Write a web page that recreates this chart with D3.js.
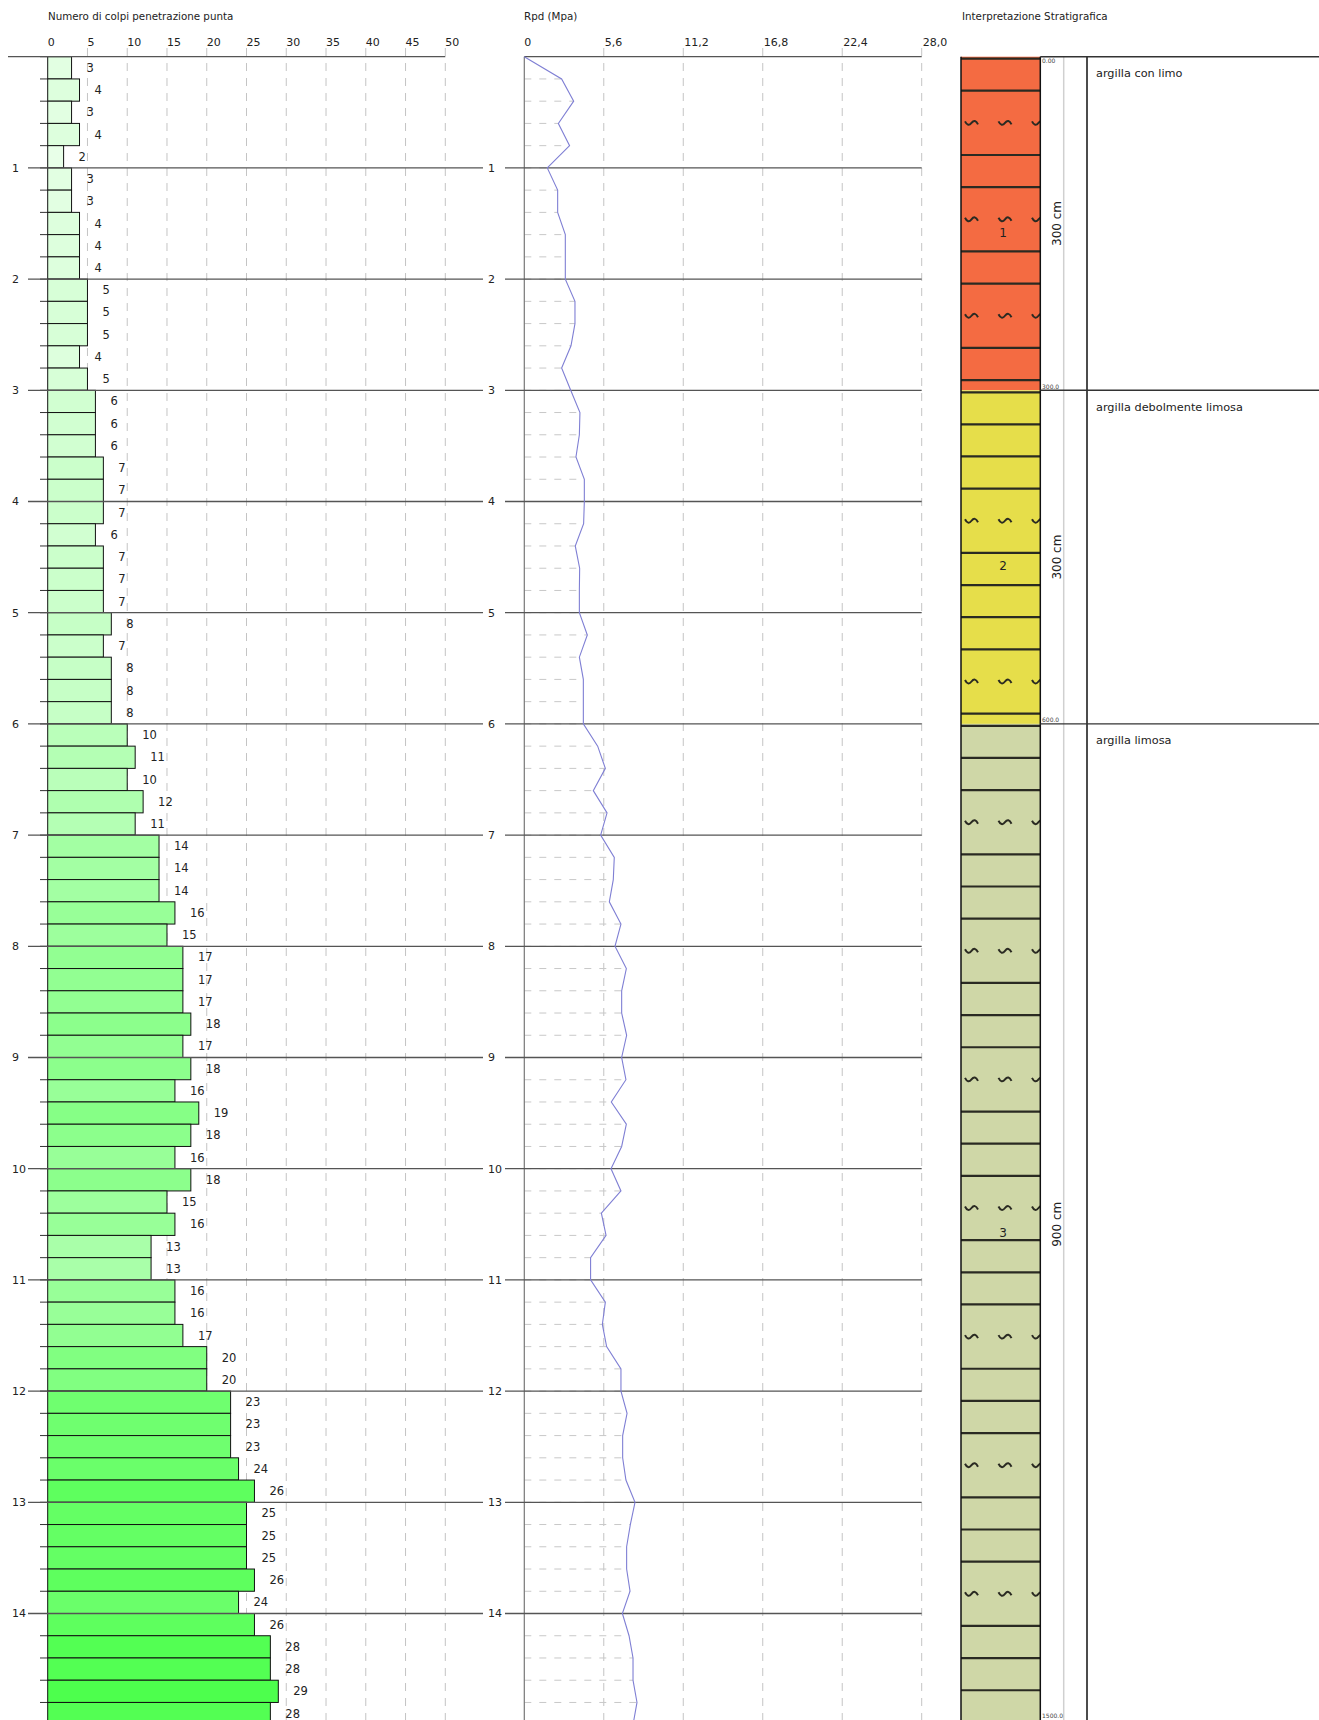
<!DOCTYPE html>
<html>
<head>
<meta charset="utf-8">
<script src="https://cdn.jsdelivr.net/npm/d3@7"></script>
<style>
  body { margin: 0; background: #fff; }
  svg { display: block; font-family: "DejaVu Sans", sans-serif; }
</style>
</head>
<body>
<div id="chart"></div>
<script>
// depth (m) at top of each 20 cm reading
const depths = [0, 0.2, 0.4, 0.6, 0.8, 1, 1.2, 1.4, 1.6, 1.8, 2, 2.2, 2.4, 2.6, 2.8,
  3, 3.2, 3.4, 3.6, 3.8, 4, 4.2, 4.4, 4.6, 4.8, 5, 5.2, 5.4, 5.6, 5.8,
  6, 6.2, 6.4, 6.6, 6.8, 7, 7.2, 7.4, 7.6, 7.8, 8, 8.2, 8.4, 8.6, 8.8,
  9, 9.2, 9.4, 9.6, 9.8, 10, 10.2, 10.4, 10.6, 10.8, 11, 11.2, 11.4, 11.6, 11.8,
  12, 12.2, 12.4, 12.6, 12.8, 13, 13.2, 13.4, 13.6, 13.8, 14, 14.2, 14.4, 14.6, 14.8];

// number of blows per 20 cm
const blows = [3, 4, 3, 4, 2, 3, 3, 4, 4, 4, 5, 5, 5, 4, 5,
  6, 6, 6, 7, 7, 7, 6, 7, 7, 7, 8, 7, 8, 8, 8,
  10, 11, 10, 12, 11, 14, 14, 14, 16, 15, 17, 17, 17, 18, 17,
  18, 16, 19, 18, 16, 18, 15, 16, 13, 13, 16, 16, 17, 20, 20,
  23, 23, 23, 24, 26, 25, 25, 25, 26, 24, 26, 28, 28, 29, 28];

// dynamic point resistance Rpd (MPa), plotted at the bottom of each reading
const rpd = [2.63, 3.48, 2.40, 3.19, 1.62, 2.35, 2.35, 2.89, 2.89, 2.89, 3.57, 3.57, 3.29, 2.63, 3.27,
  3.92, 3.88, 3.64, 4.23, 4.23, 4.18, 3.59, 3.90, 3.88, 3.88, 4.44, 3.88, 4.16, 4.16, 4.16,
  5.17, 5.71, 4.86, 5.83, 5.38, 6.34, 6.27, 5.99, 6.81, 6.39, 7.19, 6.86, 6.86, 7.21, 6.86,
  7.16, 6.13, 7.19, 6.86, 6.11, 6.81, 5.43, 5.76, 4.67, 4.67, 5.71, 5.50, 5.80, 6.81, 6.81,
  7.24, 6.93, 6.93, 7.16, 7.80, 7.47, 7.21, 7.21, 7.45, 6.91, 7.38, 7.66, 7.66, 7.94, 7.66];

const blowTicks = [0, 5, 10, 15, 20, 25, 30, 35, 40, 45, 50];
const rpdTicks = [0, 5.6, 11.2, 16.8, 22.4, 28.0];
const rpdTickLabels = ["0", "5,6", "11,2", "16,8", "22,4", "28,0"];
const depthMarks = [1, 2, 3, 4, 5, 6, 7, 8, 9, 10, 11, 12, 13, 14];

// stratigraphy (cm)
const layerFrom = [0, 300, 600];
const layerTo = [300, 600, 1500];
const layerNum = ["1", "2", "3"];
const layerThick = ["300 cm", "300 cm", "900 cm"];
const layerNames = ["argilla con limo", "argilla debolmente limosa", "argilla limosa"];
const boundaryDepth = [0, 300, 600, 1500];
const boundaryLabels = ["0.00", "300.0", "600.0", "1500.0"];

// styles
const layerFill = ["#f46b42", "#e6de4a", "#cfd7a7"];
const layerWaveEvery = [3, 5, 4];
const layerWaveAt = [1, 3, 2];

const W = 1319, H = 1720;
const svg = d3.select("#chart").append("svg")
  .attr("width", W).attr("height", H)
  .attr("viewBox", `0 0 ${W} ${H}`);

const y = d3.scaleLinear().domain([0, 15]).range([56.7, 1724.7]);
const xB = d3.scaleLinear().domain([0, 50]).range([47.7, 445.3]);
const xR = d3.scaleLinear().domain([0, 28]).range([524.3, 921.7]);
const color = d3.scaleLinear().domain([2, 29]).range(["#e8ffe8", "#4dff4d"]);
const step = 0.2;

const data = depths.map((d, i) => ({ depth: d, n: blows[i], rpd: rpd[i] }));

// titles
svg.append("text").attr("x", 48).attr("y", 20).attr("font-size", 10.3).attr("fill", "#222")
  .text("Numero di colpi penetrazione punta");
svg.append("text").attr("x", 524).attr("y", 20).attr("font-size", 10.3).attr("fill", "#222")
  .text("Rpd (Mpa)");
svg.append("text").attr("x", 962).attr("y", 20).attr("font-size", 10.3).attr("fill", "#222")
  .text("Interpretazione Stratigrafica");

// ---------- panel 1 : blows ----------
const p1 = svg.append("g");

p1.selectAll(".gridB")
  .data(blowTicks.filter(t => t > 0))
  .join("line")
  .attr("x1", d => xB(d)).attr("x2", d => xB(d))
  .attr("y1", 48).attr("y2", H)
  .attr("stroke", "#c4c4c4").attr("stroke-dasharray", "8,7");

p1.selectAll(".tickB")
  .data(blowTicks)
  .join("text")
  .attr("x", d => xB(d)).attr("y", 46)
  .attr("font-size", 11).attr("fill", "#222")
  .text(d => d);

p1.selectAll(".minor")
  .data(data)
  .join("line")
  .attr("x1", 40).attr("x2", xB(0))
  .attr("y1", d => y(d.depth)).attr("y2", d => y(d.depth))
  .attr("stroke", "#333");

p1.selectAll("rect")
  .data(data)
  .join("rect")
  .attr("x", xB(0))
  .attr("y", d => y(d.depth))
  .attr("width", d => xB(d.n) - xB(0))
  .attr("height", d => y(d.depth + step) - y(d.depth))
  .attr("fill", d => color(d.n))
  .attr("stroke", "#111").attr("stroke-width", 1);

p1.selectAll(".lbl")
  .data(data)
  .join("text")
  .attr("x", d => xB(d.n) + 15)
  .attr("y", d => (y(d.depth) + y(d.depth + step)) / 2)
  .attr("dy", "0.35em")
  .attr("font-size", 11.5).attr("fill", "#222")
  .text(d => d.n);

p1.append("line")
  .attr("x1", 8).attr("x2", xB(50)).attr("y1", y(0)).attr("y2", y(0))
  .attr("stroke", "#555").attr("stroke-width", 1.3);

p1.selectAll(".major")
  .data(depthMarks)
  .join("line")
  .attr("x1", 28).attr("x2", 483)
  .attr("y1", d => y(d)).attr("y2", d => y(d))
  .attr("stroke", "#555").attr("stroke-width", 1.3);

p1.selectAll(".dlab")
  .data(depthMarks)
  .join("text")
  .attr("x", 12).attr("y", d => y(d)).attr("dy", "0.35em")
  .attr("font-size", 11).attr("fill", "#222")
  .text(d => d);

// ---------- panel 2 : Rpd ----------
const p2 = svg.append("g");

p2.selectAll(".gridR")
  .data(rpdTicks.filter(t => t > 0))
  .join("line")
  .attr("x1", d => xR(d)).attr("x2", d => xR(d))
  .attr("y1", 48).attr("y2", H)
  .attr("stroke", "#c4c4c4").attr("stroke-dasharray", "8,7");

p2.selectAll(".tickR")
  .data(rpdTicks)
  .join("text")
  .attr("x", (d, i) => xR(d) + (i ? 1 : 0)).attr("y", 46)
  .attr("font-size", 11).attr("fill", "#222")
  .text((d, i) => rpdTickLabels[i]);

p2.selectAll(".stem")
  .data(data)
  .join("line")
  .attr("x1", xR(0)).attr("x2", d => xR(d.rpd))
  .attr("y1", d => y(d.depth + step)).attr("y2", d => y(d.depth + step))
  .attr("stroke", "#c8c8c8").attr("stroke-dasharray", "7,8");

p2.append("line")
  .attr("x1", xR(0)).attr("x2", xR(0)).attr("y1", y(0)).attr("y2", H)
  .attr("stroke", "#777").attr("stroke-width", 1.2);

p2.append("line")
  .attr("x1", xR(0)).attr("x2", xR(28)).attr("y1", y(0)).attr("y2", y(0))
  .attr("stroke", "#555").attr("stroke-width", 1.3);

p2.selectAll(".major")
  .data(depthMarks)
  .join("line")
  .attr("x1", 505).attr("x2", xR(28))
  .attr("y1", d => y(d)).attr("y2", d => y(d))
  .attr("stroke", "#555").attr("stroke-width", 1.3);

p2.selectAll(".dlab")
  .data(depthMarks)
  .join("text")
  .attr("x", 488).attr("y", d => y(d)).attr("dy", "0.35em")
  .attr("font-size", 11).attr("fill", "#222")
  .text(d => d);

const line = d3.line()
  .x(d => xR(d.v))
  .y(d => y(d.d));

p2.append("path")
  .datum([{ d: 0, v: 0 }].concat(data.map(d => ({ d: d.depth + step, v: d.rpd }))))
  .attr("fill", "none")
  .attr("stroke", "#7f7fd4")
  .attr("stroke-width", 1.1)
  .attr("d", line);

// ---------- panel 3 : stratigraphy ----------
const p3 = svg.append("g");
const colX0 = 961, colX1 = 1040.3;
const yc = cm => y(cm / 100);

svg.append("defs").append("clipPath").attr("id", "colClip")
  .append("rect").attr("x", colX0).attr("y", 0).attr("width", colX1 - colX0).attr("height", H);

const layers = layerFrom.map((f, i) => ({ from: f, to: layerTo[i], i }));

const col = p3.append("g").attr("clip-path", "url(#colClip)");

col.selectAll("rect")
  .data(layers)
  .join("rect")
  .attr("x", colX0).attr("width", colX1 - colX0)
  .attr("y", d => yc(d.from)).attr("height", d => yc(d.to) - yc(d.from))
  .attr("fill", d => layerFill[d.i]);

const wave = "M-6.5,-1.5 Q-3.5,4.5 0,0 Q3.5,-4.5 6.5,1.5";

layers.forEach(L => {
  const top = yc(L.from), bot = yc(L.to);
  col.append("line")
    .attr("x1", colX0).attr("x2", colX1)
    .attr("y1", top + 2).attr("y2", top + 2)
    .attr("stroke", "#2a2a22").attr("stroke-width", 2.2);
  for (let k = 0; ; k++) {
    const yy = top + 34 + 32.15 * k;
    if (yy > bot - 3) break;
    if (k % layerWaveEvery[L.i] === layerWaveAt[L.i]) {
      [971.5, 1005, 1038.5].forEach(wx => {
        col.append("path")
          .attr("d", wave)
          .attr("transform", `translate(${wx},${yy})`)
          .attr("fill", "none").attr("stroke", "#2a2a22").attr("stroke-width", 2);
      });
    } else {
      col.append("line")
        .attr("x1", colX0).attr("x2", colX1)
        .attr("y1", yy).attr("y2", yy)
        .attr("stroke", "#2a2a22").attr("stroke-width", 2.2);
    }
  }
});

p3.append("line").attr("x1", colX0).attr("x2", colX0).attr("y1", y(0)).attr("y2", H)
  .attr("stroke", "#111").attr("stroke-width", 1.5);
p3.append("line").attr("x1", colX1).attr("x2", colX1).attr("y1", y(0)).attr("y2", H)
  .attr("stroke", "#111").attr("stroke-width", 1.5);

p3.selectAll(".num")
  .data(layers)
  .join("text")
  .attr("x", 1003).attr("y", d => (yc(d.from) + yc(d.to)) / 2 + 13)
  .attr("text-anchor", "middle")
  .attr("font-size", 12).attr("fill", "#222")
  .text(d => layerNum[d.i]);

p3.append("line").attr("x1", 1063.7).attr("x2", 1063.7).attr("y1", y(0)).attr("y2", H)
  .attr("stroke", "#d0d0d0").attr("stroke-width", 1.5);
p3.append("line").attr("x1", 1087).attr("x2", 1087).attr("y1", y(0)).attr("y2", H)
  .attr("stroke", "#111").attr("stroke-width", 1.5);

p3.selectAll(".bound")
  .data(boundaryDepth.slice(0, 3))
  .join("line")
  .attr("x1", colX1).attr("x2", W)
  .attr("y1", d => yc(d)).attr("y2", d => yc(d))
  .attr("stroke", "#333").attr("stroke-width", 1.4);

p3.selectAll(".blab")
  .data(boundaryDepth)
  .join("text")
  .attr("x", 1042)
  .attr("y", (d, i) => i === 0 ? yc(d) + 6 : Math.min(yc(d) - 1.5, H - 2))
  .attr("font-size", 6).attr("fill", "#444")
  .text((d, i) => boundaryLabels[i]);

p3.selectAll(".thick")
  .data(layers)
  .join("text")
  .attr("transform", d => `translate(1057,${(yc(d.from) + yc(d.to)) / 2}) rotate(-90)`)
  .attr("text-anchor", "middle").attr("dy", "0.35em")
  .attr("font-size", 12).attr("fill", "#222")
  .text(d => layerThick[d.i]);

p3.selectAll(".name")
  .data(layers)
  .join("text")
  .attr("x", 1096).attr("y", d => yc(d.from) + 16.5).attr("dy", "0.35em")
  .attr("font-size", 11.3).attr("fill", "#222")
  .text(d => layerNames[d.i]);
</script>
</body>
</html>
